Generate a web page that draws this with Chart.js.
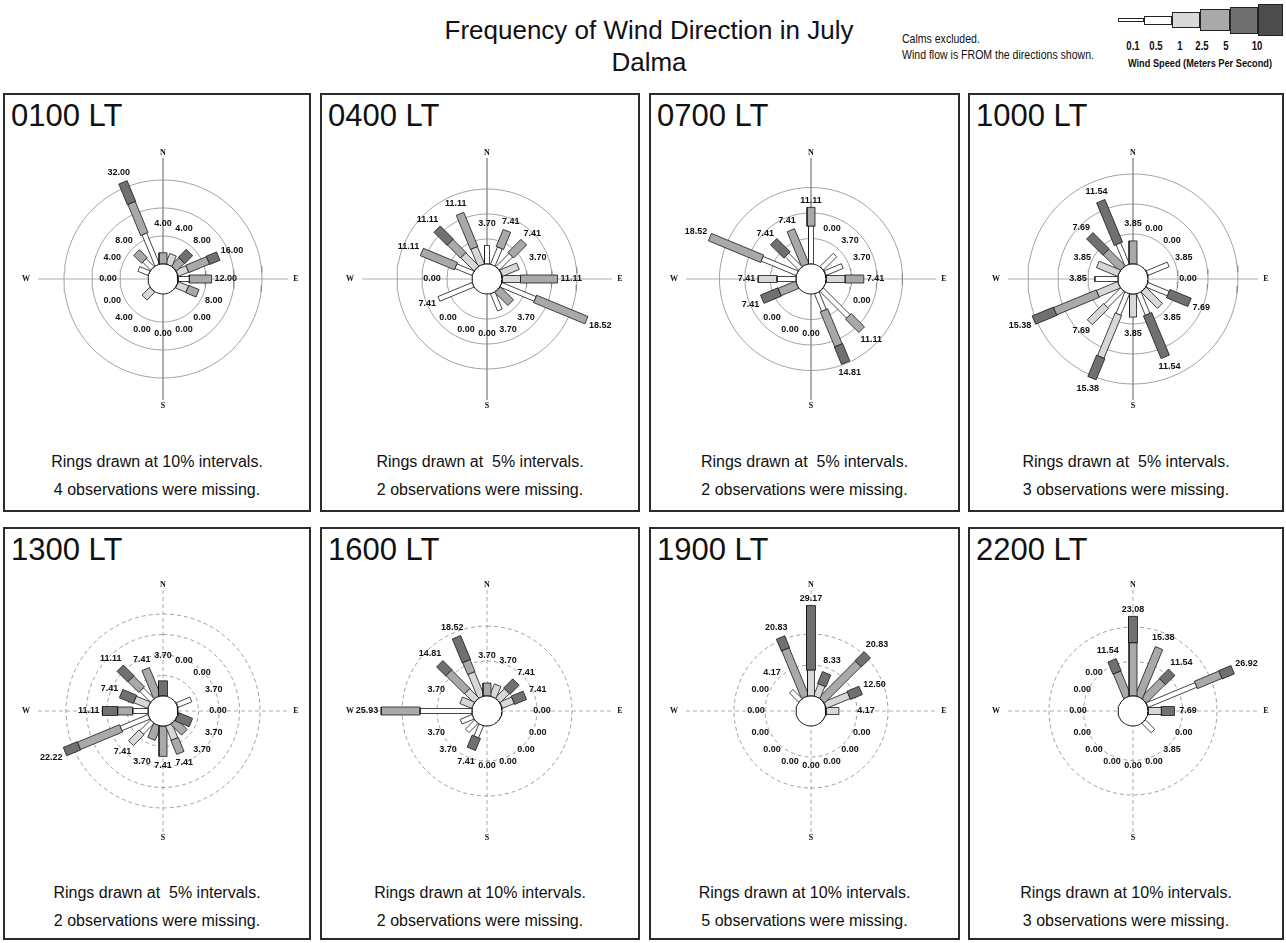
<!DOCTYPE html>
<html>
<head>
<meta charset="utf-8">
<script src="https://cdn.jsdelivr.net/npm/chart.js@4.4.0/dist/chart.umd.min.js"></script>
<style>
  body { margin: 0; background: #fff; font-family: "Liberation Sans", Arial, sans-serif; color: #111; }
  #page { position: relative; width: 1286px; height: 943px; overflow: hidden; }
  .title { position: absolute; left: 399px; width: 500px; top: 14px; text-align: center; font-size: 26px; line-height: 32px; }
  .note { position: absolute; left: 902px; top: 31px; font-size: 13.5px; line-height: 16px; transform: scaleX(0.78); transform-origin: left top; white-space: nowrap; }
  .box { position: absolute; border: 2px solid #2b2b2b; box-sizing: border-box; }
  .hour { position: absolute; left: 6px; top: 6px; font-size: 31px; line-height: 30px; }
  .foot { position: absolute; left: 0; right: 0; text-align: center; font-size: 16px; line-height: 28px; white-space: pre; }
  canvas { position: absolute; }
  .lg { position: absolute; border: 1px solid #222; box-sizing: border-box; }
  .lgt { position: absolute; font-size: 12px; font-weight: bold; transform: translateX(-50%) scaleX(0.8); white-space: nowrap; }
</style>
</head>
<body>
<div id="page">
  <div class="title">Frequency of Wind Direction in July<br>Dalma</div>
  <div class="note">Calms excluded.<br>Wind flow is FROM the directions shown.</div>
  <div id="legend"></div>
</div>
<script>
// wind directions and speed bins (m/s)
const directions = ['N','NNE','NE','ENE','E','ESE','SE','SSE','S','SSW','SW','WSW','W','WNW','NW','NNW'];
const speedBins = ['0.1','0.5','1','2.5','5','10'];
const hourLabels = ['0100 LT','0400 LT','0700 LT','1000 LT','1300 LT','1600 LT','1900 LT','2200 LT'];
const ringSteps = [10, 5, 5, 5, 5, 10, 10, 10];
const ringCounts = [3, 3, 3, 3, 4, 2, 2, 2];
const missingObs = [4, 2, 2, 3, 2, 2, 5, 3];

// frequency (%) per direction, and how each bar splits over the speed bins (relative parts)
const pct0100 = [4.00,4.00,8.00,16.00,12.00,8.00,0.00,0.00,0.00,0.00,4.00,0.00,0.00,4.00,8.00,32.00];
const mix0100 = [[0,0,0,1,0,0],[0,0,1,0,0,0],[0,0,0,1,1,0],[0,0,1,2,1,0],[0,1,0,2,0,0],[0,0,1,1,0,0],
  [0,0,0,0,0,0],[0,0,0,0,0,0],[0,0,0,0,0,0],[0,0,0,0,0,0],[0,0,1,0,0,0],[0,0,0,0,0,0],
  [0,0,0,0,0,0],[0,1,0,0,0,0],[0,1,0,1,0,0],[0,3,0,3,2,0]];

const pct0400 = [3.70,7.41,7.41,3.70,11.11,18.52,3.70,3.70,0.00,0.00,0.00,7.41,0.00,11.11,11.11,11.11];
const mix0400 = [[0,1,0,0,0,0],[0,1,0,1,0,0],[0,1,0,1,0,0],[0,0,1,0,0,0],[0,0,1,2,0,0],[0,2,0,3,0,0],
  [0,0,0,1,0,0],[0,1,0,0,0,0],[0,0,0,0,0,0],[0,0,0,0,0,0],[0,0,0,0,0,0],[0,2,0,0,0,0],
  [0,0,0,0,0,0],[0,1,0,2,0,0],[0,0,1,1,1,0],[0,0,1,2,0,0]];

const pct0700 = [11.11,0.00,3.70,3.70,7.41,0.00,11.11,14.81,0.00,0.00,0.00,7.41,7.41,18.52,7.41,7.41];
const mix0700 = [[0,2,0,1,0,0],[0,0,0,0,0,0],[0,1,0,0,0,0],[0,1,0,0,0,0],[0,0,1,1,0,0],[0,0,0,0,0,0],
  [0,2,0,1,0,0],[0,1,0,2,1,0],[0,0,0,0,0,0],[0,0,0,0,0,0],[0,0,0,0,0,0],[0,0,0,1,1,0],
  [0,1,1,0,0,0],[0,2,0,3,0,0],[0,1,0,0,1,0],[0,0,0,2,0,0]];

const pct1000 = [3.85,0.00,0.00,3.85,0.00,7.69,3.85,11.54,3.85,15.38,7.69,15.38,3.85,3.85,7.69,11.54];
const mix1000 = [[0,0,0,1,0,0],[0,0,0,0,0,0],[0,0,0,0,0,0],[0,1,0,0,0,0],[0,0,0,0,0,0],[0,1,0,0,1,0],
  [0,0,1,0,0,0],[0,1,0,0,2,0],[0,0,1,0,0,0],[0,1,2,0,1,0],[0,1,1,0,0,0],[0,0,1,2,1,0],
  [0,1,0,0,0,0],[0,0,1,0,0,0],[0,0,0,1,1,0],[0,1,0,0,2,0]];

const pct1300 = [3.70,0.00,0.00,3.70,0.00,3.70,3.70,7.41,7.41,3.70,7.41,22.22,11.11,7.41,11.11,7.41];
const mix1300 = [[0,0,0,0,1,0],[0,0,0,0,0,0],[0,0,0,0,0,0],[0,1,0,0,0,0],[0,0,0,0,0,0],[0,0,0,0,1,0],
  [0,0,0,1,0,0],[0,0,1,1,0,0],[0,0,0,2,0,0],[0,0,0,1,0,0],[0,1,1,0,0,0],[0,2,0,3,1,0],
  [0,1,0,1,1,0],[0,0,1,0,1,0],[0,1,0,1,1,0],[0,0,0,2,0,0]];

const pct1600 = [3.70,3.70,7.41,7.41,0.00,0.00,0.00,0.00,0.00,7.41,3.70,3.70,25.93,3.70,14.81,18.52];
const mix1600 = [[0,0,0,1,0,0],[0,0,1,0,0,0],[0,0,1,0,1,0],[0,0,1,0,1,0],[0,0,0,0,0,0],[0,0,0,0,0,0],
  [0,0,0,0,0,0],[0,0,0,0,0,0],[0,0,0,0,0,0],[0,1,0,0,1,0],[0,1,0,0,0,0],[0,1,0,0,0,0],
  [0,4,0,3,0,0],[0,0,1,0,0,0],[0,0,1,2,1,0],[0,0,2,1,2,0]];

const pct1900 = [29.17,8.33,20.83,12.50,4.17,0.00,0.00,0.00,0.00,0.00,0.00,0.00,0.00,0.00,4.17,20.83];
const mix1900 = [[0,0,2,0,5,0],[0,0,1,0,1,0],[0,0,0,4,1,0],[0,0,2,0,1,0],[0,0,1,0,0,0],[0,0,0,0,0,0],
  [0,0,0,0,0,0],[0,0,0,0,0,0],[0,0,0,0,0,0],[0,0,0,0,0,0],[0,0,0,0,0,0],[0,0,0,0,0,0],
  [0,0,0,0,0,0],[0,0,0,0,0,0],[0,1,0,0,0,0],[0,0,0,4,1,0]];

const pct2200 = [23.08,15.38,11.54,26.92,7.69,0.00,3.85,0.00,0.00,0.00,0.00,0.00,0.00,0.00,0.00,11.54];
const mix2200 = [[0,0,0,4,2,0],[0,0,0,4,0,0],[0,0,0,2,1,0],[0,4,0,2,1,0],[0,0,1,0,1,0],[0,0,0,0,0,0],
  [0,1,0,0,0,0],[0,0,0,0,0,0],[0,0,0,0,0,0],[0,0,0,0,0,0],[0,0,0,0,0,0],[0,0,0,0,0,0],
  [0,0,0,0,0,0],[0,0,0,0,0,0],[0,0,0,0,0,0],[0,0,0,2,1,0]];

const panelPct = [pct0100, pct0400, pct0700, pct1000, pct1300, pct1600, pct1900, pct2200];
const panelMix = [mix0100, mix0400, mix0700, mix1000, mix1300, mix1600, mix1900, mix2200];

// layout and styling
const boxX = [[3, 308], [320, 320], [649, 311], [968, 316]];
const boxY = [[93, 419], [527, 413]];
const roseDx = [160, 167, 162, 165];
const pxPerPct = [2.8, 5.0, 5.1, 6.0, 4.1, 3.5, 3.1, 3.45];
const binWidth = [3, 5, 7, 8, 9, 10];
const binFill = ['#ffffff', '#ffffff', '#d8d8d8', '#a9a9a9', '#707070', '#4d4d4d'];
const CALM_PX = 15, HALF = 150;

function circlePts(r) {
  const pts = [];
  for (let a = 0; a <= 96; a++) {
    const t = a * Math.PI / 48;
    pts.push({x: r * Math.sin(t), y: r * Math.cos(t)});
  }
  return pts;
}

function rectPts(th, r1, r2, hw) {
  const ux = Math.sin(th), uy = Math.cos(th), nx = Math.cos(th), ny = -Math.sin(th);
  const p = (r, s) => ({x: r * ux + s * hw * nx, y: r * uy + s * hw * ny});
  return [p(r1, 1), p(r2, 1), p(r2, -1), p(r1, -1), p(r1, 1)];
}

const rosePlugin = {
  id: 'rose',
  afterDatasetsDraw(chart, args, opts) {
    const {ctx} = chart;
    const x = chart.scales.x, y = chart.scales.y;
    const cx = x.getPixelForValue(0), cy = y.getPixelForValue(0);
    ctx.save();
    ctx.fillStyle = '#111';
    ctx.textAlign = 'center';
    ctx.textBaseline = 'middle';
    ctx.font = 'bold 9px "Liberation Sans", Arial, sans-serif';
    opts.totals.forEach((v, i) => {
      const th = i * Math.PI / 8;
      const tip = x.getPixelForValue(opts.calm + v) - cx;
      const txt = v.toFixed(2);
      const w = ctx.measureText(txt).width;
      const ext = Math.abs(Math.sin(th)) * w / 2 + Math.abs(Math.cos(th)) * 4;
      const r = Math.max(55, tip + 3 + ext);
      ctx.fillText(txt, cx + r * Math.sin(th), cy - r * Math.cos(th));
    });
    ctx.font = 'bold 8px "Liberation Serif", serif';
    ctx.fillText('N', cx, cy - 126);
    ctx.fillText('S', cx, cy + 127);
    ctx.fillText('W', cx - 137, cy);
    ctx.fillText('E', cx + 133, cy);
    ctx.restore();
  }
};

function buildRose(p) {
  const row = Math.floor(p / 4), col = p % 4;
  const k = pxPerPct[p], calm = CALM_PX / k, R = HALF / k;
  const dashed = row === 1 ? [4, 3] : [];
  const box = document.createElement('div');
  box.className = 'box';
  box.style.left = boxX[col][0] + 'px';
  box.style.width = boxX[col][1] + 'px';
  box.style.top = boxY[row][0] + 'px';
  box.style.height = boxY[row][1] + 'px';
  const step = ringSteps[p];
  box.innerHTML = '<div class="hour">' + hourLabels[p] + '</div>' +
    '<div class="foot" style="top:' + (row ? 350 : 353) + 'px">Rings drawn at ' + (step < 10 ? ' ' + step : step) +
    '% intervals.\n' + missingObs[p] + ' observations were missing.</div>';
  document.getElementById('page').appendChild(box);

  const cv = document.createElement('canvas');
  cv.width = 2 * HALF; cv.height = 2 * HALF;
  const cxAbs = boxX[col][0] + roseDx[col], cyAbs = boxY[row][0] + (row ? 184 : 186);
  cv.style.left = (cxAbs - HALF) + 'px';
  cv.style.top = (cyAbs - HALF) + 'px';
  document.getElementById('page').appendChild(cv);

  const datasets = [];
  const guide = {showLine: true, fill: false, borderColor: '#9a9a9a', borderWidth: 0.8, borderDash: dashed, pointRadius: 0, order: 3};
  for (let j = 1; j <= ringCounts[p]; j++) {
    datasets.push(Object.assign({data: circlePts(calm + j * step)}, guide, {borderColor: '#8a8a8a'}));
  }
  datasets.push(Object.assign({data: [{x: 0, y: 121 / k}, {x: 0, y: -121 / k}]}, guide));
  datasets.push(Object.assign({data: [{x: -125 / k, y: 0}, {x: 125 / k, y: 0}]}, guide));

  const pct = panelPct[p], mix = panelMix[p];
  pct.forEach((total, i) => {
    const parts = mix[i];
    const n = parts.reduce((a, b) => a + b, 0);
    if (!total || !n) return;
    const th = i * Math.PI / 8;
    let r = calm;
    parts.forEach((q, b) => {
      if (!q) return;
      const len = total * q / n;
      datasets.push({
        label: directions[i] + ' ' + speedBins[b],
        data: rectPts(th, r, r + len, binWidth[b] / 2 / k),
        fill: 'shape', backgroundColor: binFill[b],
        borderColor: '#161616', borderWidth: 0.8, pointRadius: 0, order: 2
      });
      r += len;
    });
  });
  datasets.push({data: circlePts(calm), fill: 'shape', backgroundColor: '#ffffff',
    borderColor: '#161616', borderWidth: 1, pointRadius: 0, order: 1});

  new Chart(cv, {
    type: 'line',
    data: {datasets: datasets},
    options: {
      responsive: false,
      animation: false,
      events: [],
      layout: {padding: 0},
      elements: {line: {tension: 0}, point: {radius: 0}},
      scales: {
        x: {type: 'linear', min: -R, max: R, display: false},
        y: {type: 'linear', min: -R, max: R, display: false}
      },
      plugins: {
        legend: {display: false},
        tooltip: {enabled: false},
        rose: {totals: pct, calm: calm}
      }
    },
    plugins: [rosePlugin]
  });
}

// speed legend at top right
function buildLegend() {
  const lg = document.getElementById('legend');
  const boxes = [[1118, 26, 4, '#ffffff'], [1144, 28, 9, '#ffffff'], [1172, 28, 16, '#d8d8d8'],
                 [1200, 30, 22, '#a9a9a9'], [1230, 28, 27, '#707070'], [1258, 25, 32, '#4d4d4d']];
  boxes.forEach(b => {
    const d = document.createElement('div');
    d.className = 'lg';
    d.style.cssText = 'left:' + b[0] + 'px;width:' + b[1] + 'px;top:' + (20 - b[2] / 2) + 'px;height:' + b[2] + 'px;background:' + b[3];
    lg.appendChild(d);
  });
  const lx = [1133, 1156, 1180, 1202, 1226, 1257];
  speedBins.forEach((s, i) => {
    const t = document.createElement('div');
    t.className = 'lgt';
    t.style.left = lx[i] + 'px';
    t.style.top = '39px';
    t.textContent = s;
    lg.appendChild(t);
  });
  const cap = document.createElement('div');
  cap.className = 'lgt';
  cap.style.left = '1200px';
  cap.style.top = '57px';
  cap.style.fontSize = '11.5px';
  cap.textContent = 'Wind Speed  (Meters Per Second)';
  lg.appendChild(cap);
}

buildLegend();
for (let p = 0; p < 8; p++) buildRose(p);
</script>
</body>
</html>
